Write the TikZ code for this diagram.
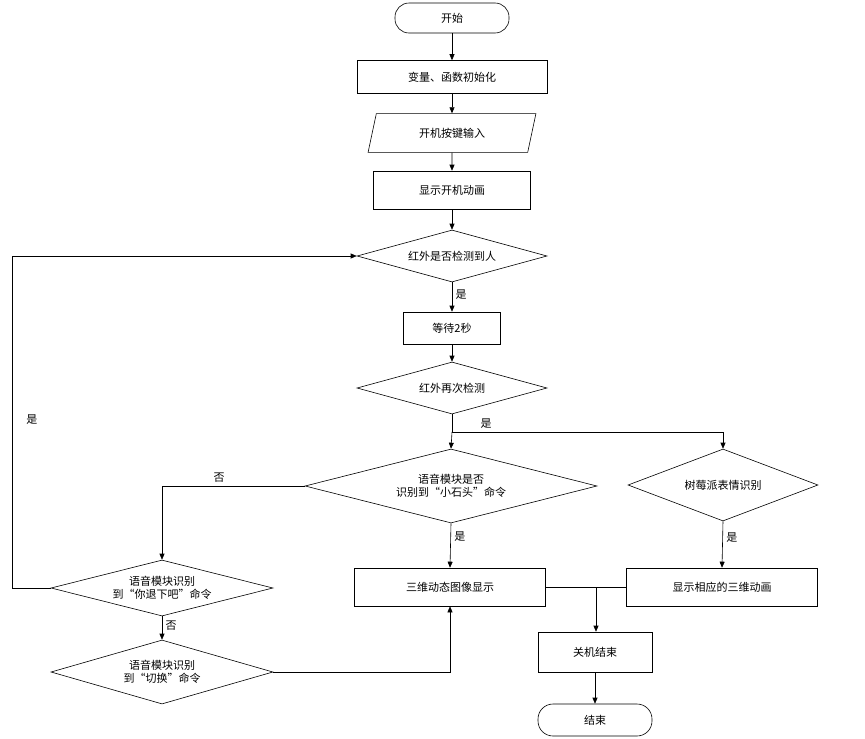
\documentclass[tikz,border=0pt]{standalone}
\usepackage{fontspec}
\setmainfont{Noto Sans CJK SC}
\usetikzlibrary{shapes.geometric,arrows.meta}
\begin{document}
\begin{tikzpicture}[x=1pt,y=-1pt,font=\fontsize{11}{13}\selectfont,
 box/.style={draw,minimum height=#1,inner sep=1pt},
 arr/.style={-{Triangle[length=6pt,width=5pt]}},
 ln/.style={line width=0.6pt}]
\useasboundingbox (0,0) rectangle (865,739);
\begin{scope}[line width=0.6pt]
\node[draw,rounded corners=14pt,minimum width=114pt,minimum height=30pt] (start) at (452,18) {开始};
\node[draw,minimum width=190pt,minimum height=33pt] (init) at (452,77) {变量、函数初始化};
\node[draw,trapezium,trapezium left angle=78,trapezium right angle=102,minimum width=168pt,minimum height=38pt,inner xsep=0pt] (key) at (452,133) {开机按键输入};
\node[draw,minimum width=157pt,minimum height=38pt] (anim) at (452,190) {显示开机动画};
\node[draw,diamond,aspect=3.65,minimum width=190pt,minimum height=52pt,inner sep=0pt] (d1) at (452,256) {红外是否检测到人};
\node[draw,minimum width=97pt,minimum height=32pt] (wait) at (452,328) {等待2秒};
\node[draw,diamond,aspect=3.65,minimum width=190pt,minimum height=52pt,inner sep=0pt] (d2) at (452,388) {红外再次检测};
\node[draw,diamond,aspect=3.95,minimum width=292pt,minimum height=74pt,inner sep=0pt,align=center] (d3) at (451,486) {语音模块是否\\识别到“小石头”命令};
\node[draw,diamond,aspect=2.64,minimum width=190pt,minimum height=72pt,inner sep=0pt] (d4) at (723,485) {树莓派表情识别};
\node[draw,diamond,aspect=3.96,minimum width=222pt,minimum height=56pt,inner sep=0pt,align=center] (d5) at (162,588) {语音模块识别\\到“你退下吧”命令};
\node[draw,diamond,aspect=3.47,minimum width=222pt,minimum height=64pt,inner sep=0pt,align=center] (d6) at (162,672) {语音模块识别\\到“切换”命令};
\node[draw,minimum width=191pt,minimum height=38pt] (show3) at (450,587) {三维动态图像显示};
\node[draw,minimum width=191pt,minimum height=38pt] (show4) at (722,587) {显示相应的三维动画};
\node[draw,minimum width=114pt,minimum height=40pt] (off) at (595,652) {关机结束};
\node[draw,rounded corners=15pt,minimum width=114pt,minimum height=32pt] (end) at (595,720) {结束};
\coordinate (split) at (452,432);
\coordinate (join) at (596,587);
\end{scope}
\begin{scope}[ln]
\draw[arr] (start) -- (init);
\draw[arr] (init) -- (key);
\draw[arr] (key) -- (anim);
\draw[arr] (anim) -- (d1);
\draw[arr] (d1) -- node[right,pos=0.4]{是} (wait);
\draw[arr] (wait) -- (d2);
\draw (d2.south) -- (split);
\node at (486,424) {是};
\draw[arr] (split) -- (d3.north);
\draw[arr] (split) -| (d4.north);
\draw[arr] (d3.west) -| node[pos=0.3,above]{否} (d5.north);
\draw[arr] (d5.west) -- ++(-38,0) |- (d1.west);
\node at (32,420) {是};
\draw[arr] (d5.south) -- node[right,pos=0.4]{否} (d6.north);
\draw[arr] (d6.east) -| (show3.south);
\draw[arr] (d3.south) -- node[right,pos=0.3]{是} (show3.north);
\draw[arr] (d4.south) -- node[right,pos=0.35]{是} (show4.north);
\draw (show3.east) -- (show4.west);
\draw[arr] (join) -- (off.north -| join);
\draw[arr] (off) -- (end);
\end{scope}
\end{tikzpicture}
\end{document}
